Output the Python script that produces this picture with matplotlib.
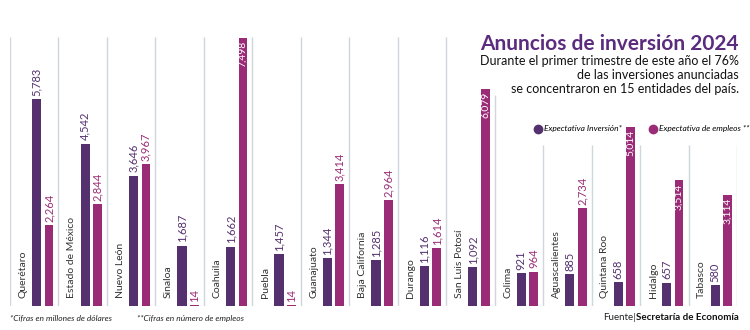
import matplotlib
matplotlib.use("Agg")
import matplotlib.pyplot as plt
from matplotlib.lines import Line2D

# datos: Secretaria de Economia, primer trimestre 2024
estados = ["Querétaro", "Estado de México", "Nuevo León", "Sinaloa", "Coahuila",
           "Puebla", "Guanajuato", "Baja California", "Durango", "San Luis Potosí",
           "Colima", "Aguascalientes", "Quintana Roo", "Hidalgo", "Tabasco"]
inversion = [5783, 4542, 3646, 1687, 1662, 1457, 1344, 1285, 1116, 1092,
             921, 885, 658, 657, 580]
empleos = [2264, 2844, 3967, 14, 7498, 14, 3414, 2964, 1614, 6079,
           964, 2734, 5014, 3514, 3114]
# estos llevan la cifra dentro de la barra
dentro = ["Coahuila", "San Luis Potosí", "Quintana Roo", "Hidalgo", "Tabasco"]

MORADO = "#54306e"
MAGENTA = "#9a2c77"
GRIS = "#cfd6dc"
FONT = ["Lato", "DejaVu Sans"]

plt.rcParams["font.family"] = FONT

W, H = 750, 330
fig = plt.figure(figsize=(7.5, 3.3), dpi=100)
ax = fig.add_axes([10 / W, 24 / H, 727 / W, 276 / H])
ax.set_xlim(0, 15)
ax.set_ylim(0, 7722)
ax.axis("off")

# lineas separadoras
tops = [7526] * 10 + [5903] + [4504] * 5
for i, t in enumerate(tops):
    ax.plot([i, i], [0, t], color=GRIS, lw=1, solid_capstyle="butt")

xs = list(range(len(estados)))
ax.bar([x + 0.55 for x in xs], inversion, width=0.19, color=MORADO)
ax.bar([x + 0.805 for x in xs], empleos, width=0.18, color=MAGENTA)

for i, nombre in enumerate(estados):
    ax.text(i + 0.27, 220, nombre, rotation=90, ha="center", va="bottom",
            fontsize=7.5, color="#333333")
    ax.text(i + 0.55, inversion[i] + 90, f"{inversion[i]:,}", rotation=90,
            ha="center", va="bottom", fontsize=8, color=MORADO)
    if nombre in dentro:
        ax.text(i + 0.805, empleos[i] - 90, f"{empleos[i]:,}", rotation=90,
                ha="center", va="top", fontsize=7.5, color="white")
    else:
        ax.text(i + 0.805, empleos[i] + 90, f"{empleos[i]:,}", rotation=90,
                ha="center", va="bottom", fontsize=8, color=MAGENTA)

# titulo
fig.text(739 / W, 1 - 50 / H, "Anuncios de inversión 2024", ha="right",
         va="baseline", fontsize=15, fontweight="bold", color="#5b2c7e")
sub = ["Durante el primer trimestre de este año el 76%",
       "de las inversiones anunciadas",
       "se concentraron en 15 entidades del país."]
for k, linea in enumerate(sub):
    fig.text(739 / W, 1 - (65 + 14 * k) / H, linea, ha="right", va="baseline",
             fontsize=9, color="#111111")

# leyenda
handles = [Line2D([], [], marker="o", ls="", color=MORADO, markersize=6),
           Line2D([], [], marker="o", ls="", color=MAGENTA, markersize=6)]
fig.legend(handles, ["Expectativa Inversión*", "Expectativa de empleos **"],
           loc="center left", bbox_to_anchor=(534 / W, 1 - 129 / H), ncol=2,
           frameon=False, prop={"size": 6, "style": "italic"},
           handletextpad=0.2, columnspacing=3.2, handlelength=1.0,
           borderpad=0, borderaxespad=0)

# notas
fig.text(10 / W, 1 - 318 / H, "*Cifras en millones de dólares", fontsize=6,
         style="italic", va="center", color="#222222")
fig.text(137 / W, 1 - 318 / H, "**Cifras en número de empleos", fontsize=6,
         style="italic", va="center", color="#222222")
fuente = fig.text(739 / W, 1 - 318 / H, "Secretaría de Economía", fontsize=7,
                  fontweight="bold", ha="right", va="center", color="#111111")
fig.canvas.draw()
bb = fuente.get_window_extent()
fig.text(bb.x0 / W, 1 - 318 / H, "Fuente|", fontsize=7, ha="right",
         va="center", color="#222222")

fig.savefig("out.png", dpi=100)
